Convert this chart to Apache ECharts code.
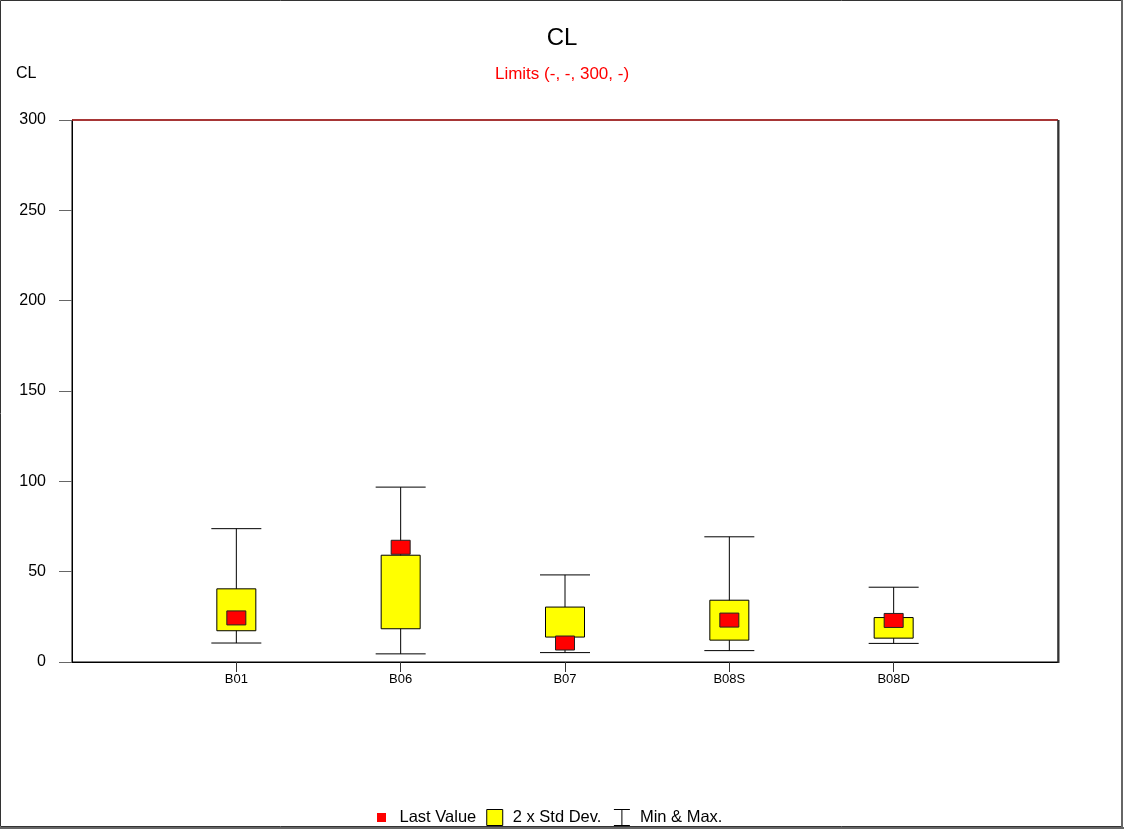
<!DOCTYPE html>
<html>
<head>
<meta charset="utf-8">
<script src="https://cdn.jsdelivr.net/npm/echarts@6/dist/echarts.min.js"></script>
<style>
html,body{margin:0;padding:0;background:#fff;}
#chart{width:1124px;height:829px;}
</style>
</head>
<body>
<div id="chart"></div>
<script>
const categories = ['', 'B01', 'B06', 'B07', 'B08S', 'B08D', ''];
const stations = ['B01', 'B06', 'B07', 'B08S', 'B08D'];
const minVals = [10.5, 4.5, 5.2, 6.3, 10.3];
const maxVals = [73.8, 96.8, 48.2, 69.3, 41.4];
const sdLow = [17.3, 18.4, 13.8, 12.1, 13.2];
const sdHigh = [40.5, 59.1, 30.4, 34.2, 24.6];
const lastVals = [24.4, 63.5, 10.5, 23.2, 23.0];
const yTicks = [0, 50, 100, 150, 200, 250, 300];
const limitValue = 300;

const FONT = 'Liberation Sans, Arial, sans-serif';

const whiskerData = stations.map((s, i) => [s, minVals[i], maxVals[i]]);
const boxData = stations.map((s, i) => [s, sdLow[i], sdHigh[i]]);
const lastData = stations.map((s, i) => [s, lastVals[i]]);

const chart = echarts.init(document.getElementById('chart'), null, {renderer: 'canvas'});

chart.setOption({
  animation: false,
  textStyle: {fontFamily: FONT},
  title: [
    {text: 'CL', left: 'center', top: 26, padding: 0, textStyle: {fontSize: 24, fontWeight: 'normal', color: '#000', fontFamily: FONT}},
    {text: 'Limits (-, -, 300, -)', left: 'center', top: 66, padding: 0, textStyle: {fontSize: 17, fontWeight: 'normal', color: '#ff0000', fontFamily: FONT}},
    {text: 'CL', left: 16, top: 66, padding: 0, textStyle: {fontSize: 16, fontWeight: 'normal', color: '#000', fontFamily: FONT}}
  ],
  graphic: [
    {type: 'rect', silent: true, z: 100,
     shape: {x: 0.5, y: 0.5, width: 1121, height: 826},
     style: {fill: 'none', stroke: '#333', lineWidth: 1}},
    {type: 'line', silent: true, z: 100,
     shape: {x1: 1122, y1: 0, x2: 1122, y2: 829},
     style: {stroke: '#666', lineWidth: 2}},
    {type: 'line', silent: true, z: 100,
     shape: {x1: 0, y1: 828, x2: 1124, y2: 828},
     style: {stroke: '#666', lineWidth: 2}},
    {type: 'line', silent: true, z: 100,
     shape: {x1: 1058.5, y1: 120, x2: 1058.5, y2: 663},
     style: {stroke: '#333', lineWidth: 2}}
  ],
  legend: {
    top: 806,
    left: 370,
    padding: 0,
    itemWidth: 16,
    itemHeight: 16,
    itemGap: 10,
    textStyle: {fontSize: 16.5, color: '#000', fontFamily: FONT, padding: [0, 0, 0, 5]},
    data: [
      {name: 'Last Value', icon: 'rect', itemStyle: {color: '#ff0000', borderColor: '#fff', borderWidth: 7}},
      {name: '2 x Std Dev.', icon: 'rect', itemStyle: {color: '#ffff00', borderColor: '#000', borderWidth: 1}},
      {name: 'Min & Max.', icon: 'path://M0,0H18M9,0V18M0,18H18', itemStyle: {color: 'none', borderColor: '#000', borderWidth: 1}}
    ]
  },
  grid: {left: 72, right: 66, top: 120, bottom: 167, show: true, borderColor: '#000', borderWidth: 1, backgroundColor: '#fff'},
  xAxis: {
    type: 'category',
    data: categories,
    boundaryGap: false,
    axisLine: {show: true, lineStyle: {color: '#000', width: 1}},
    axisTick: {show: true, length: 10, lineStyle: {color: '#333'}, interval: (idx, val) => val !== ''},
    axisLabel: {fontSize: 13, color: '#000', margin: 11, interval: 0, fontFamily: FONT},
    splitLine: {show: false}
  },
  yAxis: {
    type: 'value',
    min: 0, max: 300, interval: 50,
    axisLine: {show: true, lineStyle: {color: '#000', width: 1}},
    axisTick: {show: true, length: 13, lineStyle: {color: '#666'}},
    axisLabel: {fontSize: 16, color: '#000', margin: 26, fontFamily: FONT,
      formatter: v => yTicks.includes(v) ? String(v) : ''},
    splitLine: {show: false}
  },
  series: [
    {
      name: 'Min & Max.',
      type: 'custom',
      z: 2,
      itemStyle: {color: '#000'},
      data: whiskerData,
      encode: {x: 0, y: [1, 2]},
      renderItem: function (params, api) {
        const x = api.coord([api.value(0), 0])[0];
        const yMin = api.coord([api.value(0), api.value(1)])[1];
        const yMax = api.coord([api.value(0), api.value(2)])[1];
        const hw = 25;
        const st = {stroke: '#000', lineWidth: 1};
        return {
          type: 'group',
          children: [
            {type: 'line', shape: {x1: x, y1: yMin, x2: x, y2: yMax}, style: st},
            {type: 'line', shape: {x1: x - hw, y1: yMin, x2: x + hw, y2: yMin}, style: st},
            {type: 'line', shape: {x1: x - hw, y1: yMax, x2: x + hw, y2: yMax}, style: st}
          ]
        };
      }
    },
    {
      name: '2 x Std Dev.',
      type: 'custom',
      z: 3,
      itemStyle: {color: '#ffff00'},
      data: boxData,
      encode: {x: 0, y: [1, 2]},
      renderItem: function (params, api) {
        const x = api.coord([api.value(0), 0])[0];
        const yLo = api.coord([api.value(0), api.value(1)])[1];
        const yHi = api.coord([api.value(0), api.value(2)])[1];
        const hw = 19.5;
        return {
          type: 'rect',
          shape: {x: x - hw, y: yHi, width: hw * 2, height: yLo - yHi},
          style: {fill: '#ffff00', stroke: '#000', lineWidth: 1}
        };
      }
    },
    {
      name: 'Last Value',
      type: 'custom',
      z: 4,
      itemStyle: {color: '#ff0000'},
      data: lastData,
      encode: {x: 0, y: 1},
      renderItem: function (params, api) {
        const p = api.coord([api.value(0), api.value(1)]);
        const w = 19, h = 14;
        return {
          type: 'rect',
          shape: {x: p[0] - w / 2, y: p[1] - h / 2, width: w, height: h},
          style: {fill: '#ff0000', stroke: '#222', lineWidth: 1}
        };
      }
    },
    {
      name: 'limit',
      type: 'line',
      data: [],
      silent: true,
      markLine: {
        symbol: 'none',
        silent: true,
        label: {show: false},
        lineStyle: {color: '#b41e1e', type: 'solid', width: 1.5},
        data: [{yAxis: limitValue}]
      }
    }
  ]
});
</script>
</body>
</html>
